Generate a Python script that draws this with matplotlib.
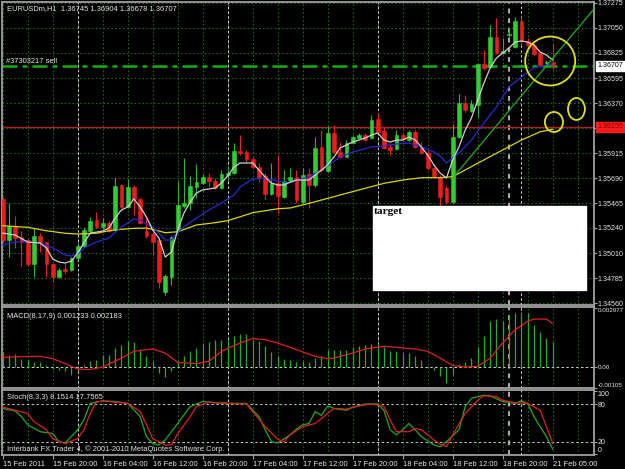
import numpy as np
import matplotlib
matplotlib.use('Agg')
import matplotlib.pyplot as plt
from matplotlib.patches import Ellipse, Rectangle

# EURUSDm H1, one candle per hour, 15 Feb 2011 12:00 .. 21 Feb 2011 05:00
opens = [1.35501, 1.35130, 1.35257, 1.35157, 1.35130, 1.34913, 1.35166, 1.35112, 1.34913, 1.34795,
         1.34868, 1.34858, 1.34967, 1.35076, 1.35211, 1.35311, 1.35248, 1.35284, 1.35220, 1.35628,
         1.35429, 1.35610, 1.35501, 1.35211, 1.35184, 1.35130, 1.34659, 1.34795, 1.35220, 1.35438,
         1.35465, 1.35610, 1.35646, 1.35700, 1.35664, 1.35601, 1.35718, 1.35736, 1.35935, 1.35926,
         1.35863, 1.35791, 1.35709, 1.35546, 1.35646, 1.35519, 1.35673, 1.35700, 1.35474, 1.35727,
         1.35628, 1.35972, 1.35754, 1.36098, 1.35926, 1.35881, 1.36008, 1.36053, 1.36080, 1.36053,
         1.36225, 1.36116, 1.35972, 1.35954, 1.36080, 1.36035, 1.36107, 1.35972, 1.35917, 1.35782,
         1.35700, 1.35601, 1.35474, 1.36062, 1.36370, 1.36297, 1.36352, 1.36723, 1.36696, 1.36967,
         1.36822, 1.36985, 1.36877, 1.37112, 1.36931, 1.36895, 1.36822, 1.36732, 1.36745]
highs = [1.35519, 1.35465, 1.35347, 1.35211, 1.35139, 1.35239, 1.35193, 1.35112, 1.34922, 1.34877,
         1.34922, 1.34976, 1.35103, 1.35248, 1.35338, 1.35383, 1.35329, 1.35302, 1.35691, 1.35637,
         1.35682, 1.35628, 1.35510, 1.35329, 1.35202, 1.35148, 1.34822, 1.35166, 1.35664, 1.35872,
         1.35709, 1.35818, 1.35727, 1.35736, 1.35691, 1.35763, 1.35800, 1.36008, 1.36080, 1.35944,
         1.35881, 1.35827, 1.35736, 1.35827, 1.35899, 1.35763, 1.35782, 1.35763, 1.35782, 1.35782,
         1.36062, 1.36125, 1.36162, 1.36171, 1.36017, 1.36035, 1.36080, 1.36098, 1.36098, 1.36261,
         1.36279, 1.36153, 1.36008, 1.36125, 1.36107, 1.36125, 1.36125, 1.36017, 1.35944, 1.35791,
         1.35718, 1.35628, 1.36180, 1.36451, 1.36442, 1.36397, 1.36723, 1.36850, 1.37076, 1.37139,
         1.36958, 1.37058, 1.37148, 1.37148, 1.36958, 1.36913, 1.36831, 1.36759, 1.36904]
lows = [1.35112, 1.34976, 1.35058, 1.34895, 1.34895, 1.34795, 1.35021, 1.34795, 1.34750, 1.34786,
        1.34822, 1.34849, 1.34949, 1.35067, 1.35202, 1.35239, 1.35230, 1.35202, 1.35211, 1.35420,
        1.35420, 1.35356, 1.35275, 1.35148, 1.34994, 1.34696, 1.34632, 1.34723, 1.35202, 1.35420,
        1.35402, 1.35510, 1.35637, 1.35610, 1.35592, 1.35592, 1.35673, 1.35727, 1.35899, 1.35836,
        1.35782, 1.35655, 1.35501, 1.35537, 1.35374, 1.35510, 1.35655, 1.35465, 1.35465, 1.35420,
        1.35610, 1.35745, 1.35745, 1.35917, 1.35872, 1.35881, 1.36008, 1.36044, 1.36026, 1.36044,
        1.36098, 1.35954, 1.35899, 1.35944, 1.36035, 1.36026, 1.35963, 1.35908, 1.35763, 1.35691,
        1.35438, 1.35456, 1.35465, 1.36053, 1.36288, 1.36288, 1.36243, 1.36668, 1.36687, 1.36813,
        1.36813, 1.36967, 1.36868, 1.36895, 1.36877, 1.36804, 1.36696, 1.36714, 1.36678]
closes = [1.35130, 1.35257, 1.35148, 1.35112, 1.34913, 1.35166, 1.35103, 1.34913, 1.34795, 1.34858,
          1.34849, 1.34967, 1.35076, 1.35220, 1.35302, 1.35248, 1.35284, 1.35211, 1.35619, 1.35429,
          1.35610, 1.35501, 1.35284, 1.35166, 1.35112, 1.34750, 1.34804, 1.35157, 1.35447, 1.35465,
          1.35619, 1.35655, 1.35700, 1.35664, 1.35601, 1.35727, 1.35736, 1.35935, 1.35917, 1.35863,
          1.35791, 1.35700, 1.35546, 1.35646, 1.35528, 1.35664, 1.35700, 1.35492, 1.35718, 1.35628,
          1.35963, 1.35763, 1.36098, 1.35926, 1.35881, 1.36008, 1.36062, 1.36080, 1.36035, 1.36216,
          1.36107, 1.35963, 1.35944, 1.36080, 1.36044, 1.36107, 1.35972, 1.35917, 1.35782, 1.35700,
          1.35519, 1.35474, 1.36062, 1.36370, 1.36306, 1.36361, 1.36723, 1.36687, 1.36967, 1.36822,
          1.36840, 1.36994, 1.37112, 1.36931, 1.36895, 1.36813, 1.36714, 1.36741, 1.36707]

# moving averages (bar index, price)
fast_ma_bars = [0, 2, 4, 6, 7, 8, 9, 10, 11, 12, 13, 14, 15, 16, 17, 18, 19, 20, 21, 22,
                23, 24, 25, 26, 27, 28, 29, 30, 31, 32, 33, 34, 35, 36, 37, 38, 39, 40, 41, 42,
                43, 44, 45, 46, 47, 48, 49, 50, 51, 52, 53, 54, 55, 56, 57, 58, 59, 60, 61, 62,
                63, 64, 65, 66, 67, 68, 69, 70, 71, 72, 73, 74, 75, 76, 77, 78, 79, 80, 81, 82,
                83, 84, 85, 86, 87, 88]
fast_ma = [1.35193, 1.35175, 1.35112, 1.35103, 1.35058, 1.34958, 1.34931, 1.34922, 1.34940, 1.35012,
           1.35103, 1.35193, 1.35202, 1.35211, 1.35239, 1.35329, 1.35402, 1.35429, 1.35501, 1.35429,
           1.35338, 1.35220, 1.35148, 1.34976, 1.35021, 1.35220, 1.35374, 1.35474, 1.35555, 1.35583,
           1.35592, 1.35601, 1.35646, 1.35709, 1.35791, 1.35827, 1.35827, 1.35827, 1.35763, 1.35700,
           1.35646, 1.35628, 1.35628, 1.35655, 1.35673, 1.35673, 1.35673, 1.35718, 1.35763, 1.35809,
           1.35881, 1.35963, 1.35990, 1.36017, 1.36035, 1.36053, 1.36080, 1.36098, 1.36035, 1.36017,
           1.36035, 1.36035, 1.36062, 1.36035, 1.35972, 1.35899, 1.35809, 1.35736, 1.35691, 1.35854,
           1.35972, 1.36125, 1.36234, 1.36397, 1.36551, 1.36687, 1.36777, 1.36822, 1.36868, 1.36922,
           1.36931, 1.36922, 1.36895, 1.36831, 1.36804, 1.36759]
mid_ma_bars = [0, 2, 4, 6, 8, 10, 11, 12, 13, 15, 17, 19, 21, 22, 23, 24, 25, 26, 27, 28,
               29, 31, 33, 35, 37, 38, 39, 40, 42, 44, 46, 47, 49, 51, 54, 56, 59, 61, 63, 65,
               67, 69, 70, 71, 72, 73, 75, 77, 79, 81, 83, 85, 87, 88]
mid_ma = [1.35085, 1.35112, 1.35112, 1.35103, 1.35058, 1.34994, 1.34985, 1.35003, 1.35058, 1.35112,
          1.35148, 1.35248, 1.35320, 1.35311, 1.35275, 1.35248, 1.35193, 1.35130, 1.35130, 1.35202,
          1.35248, 1.35329, 1.35402, 1.35465, 1.35537, 1.35610, 1.35646, 1.35682, 1.35691, 1.35664,
          1.35646, 1.35673, 1.35700, 1.35763, 1.35881, 1.35926, 1.35972, 1.35981, 1.35999, 1.36008,
          1.35972, 1.35926, 1.35890, 1.35827, 1.35872, 1.35917, 1.36035, 1.36189, 1.36334, 1.36515,
          1.36605, 1.36687, 1.36714, 1.36723]
slow_ma_bars = [0, 4, 7, 10, 12, 15, 17, 19, 21, 23, 24, 26, 28, 31, 34, 36, 38, 40, 42, 44,
                46, 49, 52, 55, 58, 61, 64, 67, 70, 72, 74, 77, 80, 83, 86, 88]
slow_ma = [1.35259, 1.35245, 1.35214, 1.35191, 1.35184, 1.35191, 1.35214, 1.35227, 1.35236, 1.35238,
           1.35227, 1.35196, 1.35205, 1.35266, 1.35287, 1.35305, 1.35341, 1.35377, 1.35395, 1.35413,
           1.35420, 1.35462, 1.35507, 1.35553, 1.35598, 1.35643, 1.35673, 1.35694, 1.35694, 1.35703,
           1.35764, 1.35855, 1.35945, 1.36035, 1.36110, 1.36132]

# MACD(8,17,9): histogram per bar, signal line samples
macd_hist = [0.00074, 0.00062, 0.00067, 0.00040, 0.00034, 0.00023, 0.00027, 0.00012, -0.00010, -0.00013,
             -0.00022, -0.00039, -0.00022, 0.00012, 0.00029, 0.00037, 0.00062, 0.00062, 0.00096, 0.00112,
             0.00129, 0.00124, 0.00091, 0.00057, 0.00029, -0.00030, -0.00050, -0.00022, 0.00029, 0.00054,
             0.00079, 0.00096, 0.00121, 0.00124, 0.00138, 0.00138, 0.00141, 0.00154, 0.00168, 0.00166,
             0.00138, 0.00129, 0.00104, 0.00074, 0.00054, 0.00040, 0.00037, 0.00023, 0.00029, 0.00023,
             0.00045, 0.00054, 0.00087, 0.00084, 0.00084, 0.00087, 0.00101, 0.00104, 0.00112, 0.00117,
             0.00121, 0.00101, 0.00079, 0.00079, 0.00070, 0.00070, 0.00054, 0.00037, 0.00007, -0.00013,
             -0.00044, -0.00080, -0.00039, 0.00017, 0.00023, 0.00045, 0.00101, 0.00154, 0.00230, 0.00241,
             0.00230, 0.00263, 0.00272, 0.00275, 0.00272, 0.00213, 0.00174, 0.00146, 0.001233]
signal_bars = [0, 6, 8, 10, 12, 14, 16, 19, 21, 24, 26, 28, 31, 33, 35, 38, 40, 42, 44, 47,
               50, 52, 53, 56, 58, 61, 64, 66, 68, 70, 72, 74, 76, 78, 80, 82, 84, 85, 87, 88]
signal = [0.00049, 0.00054, 0.00042, 0.00017, -0.00010, -0.00013, 0.0, 0.00045, 0.00079, 0.00091,
          0.00070, 0.00023, 0.00017, 0.00029, 0.00079, 0.00121, 0.00143, 0.00138, 0.00121, 0.00087,
          0.00054, 0.00042, 0.00045, 0.00070, 0.00091, 0.00104, 0.00096, 0.00091, 0.00079, 0.00045,
          0.00007, 0.0, 0.00003, 0.00045, 0.00121, 0.00188, 0.00230, 0.00241, 0.00241, 0.002183]

# Stochastic(8,3,3)
stoch_k_bars = [0, 2, 3, 4, 6, 8, 9, 10, 12, 13, 14, 16, 18, 20, 22, 23, 24, 25, 26, 28,
                30, 32, 34, 37, 39, 41, 42, 43, 44, 46, 47, 48, 49, 50, 51, 52, 53, 55, 56, 58,
                60, 61, 62, 63, 64, 65, 66, 67, 69, 70, 71, 73, 74, 75, 77, 78, 80, 82, 83, 84,
                85, 87, 88]
stoch_k = [73, 69, 60, 47, 36, 33, 20, 18, 39, 55, 81, 85, 84, 81, 60, 28, 17, 15, 23, 49,
           76, 84, 82, 81, 81, 60, 39, 20, 18, 31, 40, 47, 49, 68, 62, 77, 73, 70, 75, 80,
           80, 70, 39, 31, 39, 49, 39, 28, 15, 12, 20, 39, 76, 89, 94, 93, 84, 81, 85, 81,
           60, 28, 8.1514]
stoch_d_bars = [0, 2, 4, 5, 7, 8, 10, 12, 13, 14, 15, 17, 20, 22, 23, 24, 26, 27, 28, 30,
                31, 33, 35, 39, 40, 42, 44, 45, 46, 48, 50, 52, 53, 55, 57, 59, 61, 62, 63, 65,
                66, 67, 69, 70, 71, 72, 74, 76, 77, 79, 80, 82, 84, 86, 87, 88]
stoch_d = [75, 70, 65, 52, 39, 25, 17, 25, 39, 65, 84, 84, 81, 68, 47, 25, 15, 15, 33, 60,
           76, 83, 81, 80, 68, 44, 24, 20, 31, 44, 49, 65, 73, 72, 77, 80, 76, 55, 36, 36,
           41, 39, 23, 16, 12, 31, 65, 86, 93, 92, 86, 82, 81, 70, 44, 17.7565]

# axis labels
price_ticks = [1.37275, 1.37050, 1.36825, 1.36595, 1.36370, 1.36145, 1.35915,
               1.35690, 1.35465, 1.35240, 1.35010, 1.34785, 1.34560]
time_label_bars = [0, 8, 16, 24, 32, 40, 48, 56, 64, 72, 80, 88]
time_labels = ['15 Feb 2011', '15 Feb 20:00', '16 Feb 04:00', '16 Feb 12:00', '16 Feb 20:00',
               '17 Feb 04:00', '17 Feb 12:00', '17 Feb 20:00', '18 Feb 04:00', '18 Feb 12:00',
               '18 Feb 20:00', '21 Feb 05:00']
day_sep_bars = [12, 36, 60, 83]
user_vline_bar = 81
sell_price = 1.36707
red_line_price = 1.36155
trend_bars = [72, 94.6]
trend_prices = [1.35691, 1.37221]

# colours
BG = 'black'
FRAME = '#a0a0a0'
TXT = '#e6e6e6'
GRID = '#1f7a1f'
BULL = '#33cc33'
BEAR = '#ee1c1c'
FS = 5.4      # chart texts
FS_AX = 5.1   # right price scale

plt.rcParams['font.family'] = ['Liberation Sans', 'DejaVu Sans']

W, H = 625, 469
fig = plt.figure(figsize=(W / 100, H / 100), dpi=100, facecolor=BG)


def panel(x0, y0, x1, y1):
    # axes placed by pixel box (top-left origin)
    ax = fig.add_axes([x0 / W, 1 - y1 / H, (x1 - x0) / W, (y1 - y0) / H])
    ax.set_facecolor(BG)
    for s in ax.spines.values():
        s.set_color(FRAME)
        s.set_linewidth(1.3)
    ax.set_xlim(-0.112, 94.61)
    ax.set_xticks([])
    ax.yaxis.tick_right()
    ax.tick_params(axis='y', colors=FRAME, labelcolor=TXT, length=2.2, width=0.8,
                   pad=0.6, labelsize=FS_AX)
    grid_bars = np.arange(0, 95, 4)
    ax.vlines(grid_bars, 0, 1, transform=ax.get_xaxis_transform(), colors=GRID,
              linestyles=(0, (1.5, 2.5)), lw=0.7, zorder=0)
    ax.vlines(day_sep_bars, 0, 1, transform=ax.get_xaxis_transform(), colors='#d8d8d8',
              linestyles=(0, (2.5, 2.5)), lw=0.7, zorder=1)
    ax.vlines([user_vline_bar], 0, 1, transform=ax.get_xaxis_transform(), colors='#b0b0b0',
              linestyles=(0, (2.5, 2.5)), lw=1.4, zorder=1)
    return ax


# ---- main price window
ax = panel(2, 2, 594, 305)
ax.set_ylim(1.34542, 1.37284)
ax.set_yticks(price_ticks)
ax.set_yticklabels(['' if p == 1.36145 else '%.5f' % p for p in price_ticks])
ax.hlines(price_ticks, 0, 1, transform=ax.get_yaxis_transform(), colors=GRID,
          linestyles=(0, (1.5, 2.5)), lw=0.7, zorder=0)

idx = np.arange(len(opens))
o, h, l, c = map(np.array, (opens, highs, lows, closes))
up = c >= o
ax.vlines(idx, l, h, colors=np.where(up, '#2fb52f', BEAR), lw=0.8, zorder=3)
body = np.maximum(np.abs(c - o), 0.00004)
ax.bar(idx, body, bottom=np.minimum(o, c), width=0.62, color=np.where(up, BULL, BEAR),
       edgecolor=np.where(up, BULL, BEAR), lw=0.4, zorder=4)

ax.plot(slow_ma_bars, slow_ma, color='#d8d800', lw=0.9, zorder=5)
ax.plot(mid_ma_bars, mid_ma, color='#2a2ad0', lw=0.9, zorder=5)
ax.plot(fast_ma_bars, fast_ma, color='#d0d0d0', lw=0.9, zorder=6)

ax.axhline(red_line_price, color='#b01e1e', lw=1.0, zorder=2)
ax.axhline(sell_price, color='#10b010', lw=1.8, ls=(0, (6, 2, 2, 2)), zorder=2)
ax.plot(trend_bars, trend_prices, color='#20b020', lw=0.9, zorder=6)

ax.text(5 / 592, 1 - 7 / 303, 'EURUSDm,H1  1.36745 1.36904 1.36678 1.36707',
        transform=ax.transAxes, color=TXT, fontsize=FS, va='center', ha='left')
ax.text(0.5, sell_price + 0.00036, '#37303217 sell', color=TXT, fontsize=FS,
        va='center', ha='left')

# price tags on the right scale
ax.annotate('%.5f' % sell_price, xy=(1, sell_price), xycoords=('axes fraction', 'data'),
            xytext=(2.6, 0), textcoords='offset points', va='center', ha='left',
            fontsize=FS_AX, color='black', annotation_clip=False,
            bbox=dict(boxstyle='square,pad=0.18', fc='white', ec='white'))
ax.annotate('%.5f' % red_line_price, xy=(1, red_line_price), xycoords=('axes fraction', 'data'),
            xytext=(2.6, 0), textcoords='offset points', va='center', ha='left',
            fontsize=FS_AX, color='#7a0000', annotation_clip=False,
            bbox=dict(boxstyle='square,pad=0.18', fc='#ff1a1a', ec='#ff1a1a'))

# "target" note box
ax.add_patch(Rectangle((59.25, 1.34678), 34.0, 0.00760, fc='white', ec='white', zorder=8))
ax.text(59.4, 1.35390, 'target', family='Liberation Serif', weight='bold', fontsize=8.2,
        color='black', va='center', ha='left', zorder=9)

# hand-drawn yellow circles
ax.add_patch(Ellipse((87.6, 1.36750), 8.0, 0.00443, fill=False, ec='#e0e020', lw=1.3, zorder=9))
ax.add_patch(Ellipse((88.2, 1.36198), 2.9, 0.00181, fill=False, ec='#e0e020', lw=1.3, zorder=9))
ax.add_patch(Ellipse((91.8, 1.36316), 2.7, 0.00199, fill=False, ec='#e0e020', lw=1.3, zorder=9))

# ---- MACD window
am = panel(2, 307, 594, 388)
am.set_ylim(-0.001056, 0.003018)
am.vlines(idx, 0, macd_hist, colors='#22b022', lw=0.9, zorder=3)
am.plot(signal_bars, signal, color='#e02020', lw=0.9, zorder=4)
am.axhline(0, color='#d8d8d8', lw=0.7, ls=(0, (2.5, 2.5)), zorder=1)
am.set_yticks([0.002977, 0.0, -0.00105])
am.set_yticklabels(['0.002977', '0.00', '-0.00105'])
am.tick_params(axis='y', labelsize=4.5)
yl = am.get_yticklabels()
yl[0].set_va('top')
yl[2].set_va('bottom')
am.text(5 / 592, 1 - 9 / 81, 'MACD(8,17,9) 0.001233 0.002183', transform=am.transAxes,
        color=TXT, fontsize=FS, va='center', ha='left')

# ---- Stochastic window
st = panel(2, 390, 594, 455)
st.set_ylim(-1.1, 102.3)
st.axhline(80, color='#c8c8c8', lw=0.7, ls=(0, (2.5, 2.5)), zorder=1)
st.axhline(20, color='#c8c8c8', lw=0.7, ls=(0, (2.5, 2.5)), zorder=1)
st.plot(stoch_k_bars, stoch_k, color='#22aa22', lw=0.9, zorder=3)
st.plot(stoch_d_bars, stoch_d, color='#e02020', lw=0.9, zorder=4)
st.set_yticks([100, 80, 20, 0])
st.set_yticklabels(['100', '80', '20', '0'])
sl = st.get_yticklabels()
sl[0].set_va('top')
sl[3].set_va('bottom')
st.text(5 / 592, 1 - 7 / 65, 'Stoch(8,3,3) 8.1514 17.7565', transform=st.transAxes,
        color=TXT, fontsize=FS, va='center', ha='left')
st.text(5 / 592, 6 / 65, 'Interbank FX Trader 4, \u00a9 2001-2010 MetaQuotes Software Corp.',
        transform=st.transAxes, color=TXT, fontsize=FS, va='center', ha='left')

# time scale
st.set_xticks(time_label_bars)
st.set_xticklabels(time_labels)
st.tick_params(axis='x', colors=FRAME, labelcolor=TXT, length=3, width=0.8, pad=1.5,
               labelsize=FS)
for t in st.get_xticklabels():
    t.set_ha('left')

fig.savefig('out.png', dpi=100, facecolor=BG)
